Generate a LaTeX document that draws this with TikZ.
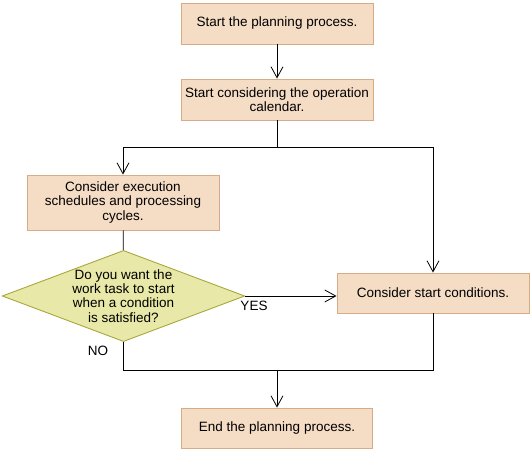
\documentclass[tikz,border=0pt]{standalone}
\usepackage{fontspec}
\setmainfont{Liberation Sans}
\usetikzlibrary{shapes.geometric,arrows.meta}

\definecolor{boxfill}{HTML}{F5DCC5}
\definecolor{boxline}{HTML}{D6AC88}
\definecolor{askfill}{HTML}{E8E8A8}
\definecolor{askline}{HTML}{A8A83C}

\tikzset{
    stepbox/.style={draw=boxline, fill=boxfill, line width=0.9pt, align=center,
        inner sep=0pt, font=\fontsize{13.5}{14.3}\selectfont},
    askbox/.style={diamond, draw=askline, fill=askfill, line width=0.9pt, align=center,
        inner sep=0pt, aspect=2.66, font=\fontsize{13.5}{14.3}\selectfont},
    flow/.style={line width=0.8pt, -{Straight Barb[length=11pt,width=12pt]}},
    link/.style={line width=0.8pt},
    tag/.style={font=\fontsize{13.5}{14.3}\selectfont}
}

\begin{document}
\begin{tikzpicture}[x=1pt,y=-1pt]

    % 1. Page size
    \useasboundingbox (0,0) rectangle (532,452);

    % 2. The steps
    \node [stepbox, minimum width=192pt, minimum height=41pt] (start) at (277,23.5) {Start the planning process.};
    \node [stepbox, minimum width=192pt, minimum height=41pt] (calendar) at (277,99.5) {Start considering the operation\\calendar.};
    \node [stepbox, minimum width=192pt, minimum height=55pt] (schedules) at (123,202.5) {Consider execution\\schedules and processing\\cycles.};
    \node [askbox, minimum width=239pt, minimum height=90pt] (decide) at (123.5,296) {Do you want the\\work task to start\\when a condition\\is satisfied?};
    \node [stepbox, minimum width=192pt, minimum height=40pt] (conditions) at (433,293) {Consider start conditions.};
    \node [stepbox, minimum width=191pt, minimum height=40pt] (finish) at (277,428) {End the planning process.};

    % 3. Branch and merge points
    \coordinate (split) at (277,147);
    \coordinate (join) at (277,370);

    % 4. Connectors
    \draw [flow] (start) -- (calendar);
    \draw [link] (calendar) -- (split);
    \draw [flow] (split) -| (schedules.north);
    \draw [flow] (split) -| (conditions.north);
    \draw [link] (schedules) -- (decide);
    \draw [flow] (decide.east) -- (decide.east -| conditions.west);
    \draw [link] (decide.south) |- (join);
    \draw [link] (conditions.south) |- (join);
    \draw [flow] (join) -- (finish);

    % 5. Answers
    \node [tag] (yes) at (254,306) {YES};
    \node [tag] (no) at (98,351) {NO};

\end{tikzpicture}
\end{document}
